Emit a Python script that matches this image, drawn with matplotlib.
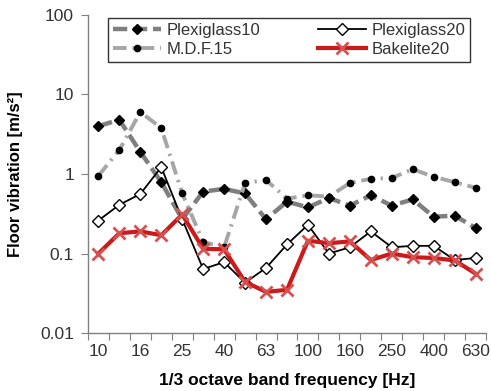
import matplotlib
matplotlib.use("Agg")
import matplotlib.pyplot as plt
import numpy as np

plt.rcParams['font.family'] = ['Liberation Sans', 'DejaVu Sans']

freqs = ["10", "12.5", "16", "20", "25", "31.5", "40", "50", "63", "80", "100",
         "125", "160", "200", "250", "315", "400", "500", "630"]
plexi10 = [4.0, 4.8, 1.9, 0.79, 0.27, 0.60, 0.65, 0.57, 0.27, 0.45, 0.38, 0.50,
           0.40, 0.54, 0.40, 0.48, 0.29, 0.30, 0.21]
plexi20 = [0.26, 0.41, 0.56, 1.22, 0.27, 0.064, 0.078, 0.043, 0.066, 0.13, 0.23,
           0.10, 0.12, 0.19, 0.12, 0.125, 0.125, 0.083, 0.088]
mdf15 = [0.95, 2.0, 6.0, 3.8, 0.57, 0.14, 0.12, 0.77, 0.84, 0.49, 0.54, 0.52,
         0.77, 0.87, 0.89, 1.15, 0.92, 0.79, 0.67]
bakelite20 = [0.10, 0.18, 0.19, 0.17, 0.31, 0.115, 0.113, 0.044, 0.033, 0.035,
              0.145, 0.135, 0.142, 0.083, 0.10, 0.09, 0.088, 0.082, 0.056]

fig = plt.figure(figsize=(4.91, 3.91), dpi=100)
ax = fig.add_axes([0.179, 0.148, 0.811, 0.814])
x = np.arange(len(freqs))

l1, = ax.plot(x, plexi10, color='#7f7f7f', lw=3.2, ls=(0, (3.2, 1.3)),
              marker='D', ms=5.5, mfc='black', mec='black', label='Plexiglass10', zorder=3)
l3, = ax.plot(x, mdf15, color='#a6a6a6', lw=2.8, ls=(0, (3.5, 1.5, 0.6, 1.5)),
              marker='o', ms=4.5, mfc='black', mec='black', label='M.D.F.15', zorder=3)
l2, = ax.plot(x, plexi20, color='black', lw=1.3, marker='D', ms=6.5,
              mfc='white', mec='black', mew=1.0, label='Plexiglass20', zorder=4)
l4, = ax.plot(x, bakelite20, color='#cc1a1a', lw=3.0, marker='x', ms=9,
              mec='#d65050', mew=2.0, label='Bakelite20', zorder=5)

ax.set_yscale('log')
ax.set_ylim(0.01, 100)
ax.set_xlim(-0.5, len(freqs) - 0.5)
ax.set_yticks([0.01, 0.1, 1, 10, 100])
ax.set_yticklabels(['0.01', '0.1', '1', '10', '100'])
ax.yaxis.set_minor_locator(matplotlib.ticker.NullLocator())

# ticks at category boundaries, labels on every other category
ax.set_xticks(np.arange(len(freqs) + 1) - 0.5)
ax.set_xticklabels([])
ax.set_xticks(x[::2], minor=True)
ax.set_xticklabels(freqs[::2], minor=True)
ax.tick_params(axis='x', which='major', direction='out', length=5, color='#808080')
ax.tick_params(axis='x', which='minor', length=0, pad=8, labelsize=12.5, labelcolor='#333333')
ax.tick_params(axis='y', direction='out', length=5, color='#808080', labelsize=12.5,
               labelcolor='#333333', pad=5)

for s in ['top', 'right']:
    ax.spines[s].set_visible(False)
for s in ['left', 'bottom']:
    ax.spines[s].set_color('#808080')
    ax.spines[s].set_linewidth(1.0)

ax.set_xlabel('1/3 octave band frequency [Hz]', fontsize=12.5, fontweight='bold', labelpad=10)
ax.set_ylabel('Floor vibration [m/s²]', fontsize=12, fontweight='bold', labelpad=12)

leg = ax.legend(handles=[l1, l3, l2, l4], ncol=2, loc='upper left',
                bbox_to_anchor=(0.05, 0.99, 0.91, 0), mode='expand',
                fontsize=12, frameon=True,
                fancybox=False, edgecolor='black', handlelength=2.9,
                borderpad=0.3, labelspacing=0.25, handletextpad=0.3,
                borderaxespad=0)
leg.get_frame().set_linewidth(1.0)
for t in leg.get_texts():
    t.set_color('#333333')

fig.savefig('out.png', dpi=100)
